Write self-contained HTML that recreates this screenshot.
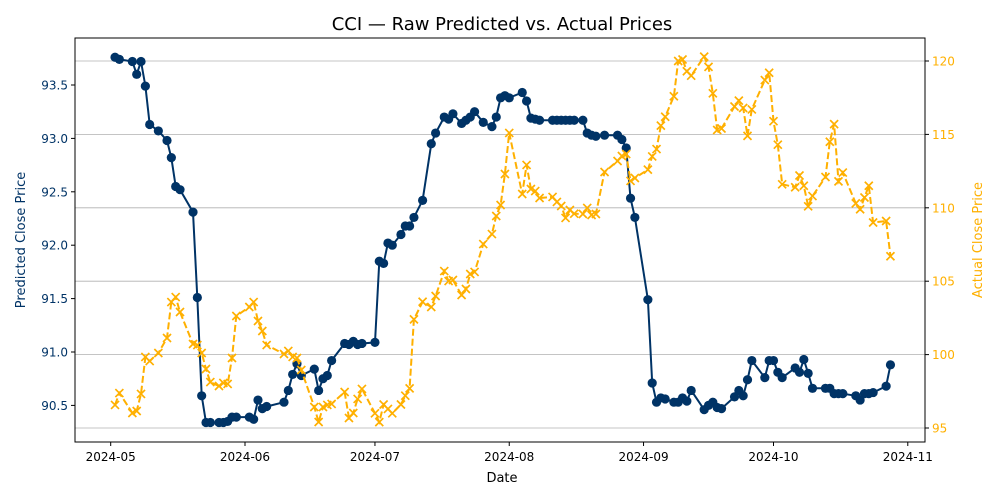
<!DOCTYPE html>
<html><head><meta charset="utf-8"><style>
body{margin:0;background:#fff;font-family:"DejaVu Sans","Liberation Sans",sans-serif}
svg text{font-family:"DejaVu Sans","Liberation Sans",sans-serif}
</style></head><body>
<svg id="chart" width="1000" height="500" xmlns="http://www.w3.org/2000/svg">
<rect width="1000" height="500" fill="#fff"/>
<text x="502" y="30" font-size="18" text-anchor="middle">CCI — Raw Predicted vs. Actual Prices</text>
<g id="grid"></g><g id="series"></g><g id="axes"></g>
</svg>
<script>
const days=[1,2,5,6,7,8,9,11,13,14,15,16,19,20,21,22,23,25,26,27,28,29,32,33,34,35,36,40,41,42,43,44,47,48,49,50,51,54,55,56,57,58,61,62,63,64,65,67,68,69,70,72,74,75,77,78,79,81,82,83,84,86,88,89,90,91,92,95,96,97,98,99,102,103,104,105,106,107,109,110,111,112,114,117,118,119,120,121,124,125,126,127,128,130,131,132,133,134,137,138,139,140,141,144,145,146,147,148,151,152,153,154,155,158,159,160,161,162,165,166,167,168,169,172,173,174,175,176,179,180];
const predicted=[93.76,93.74,93.72,93.60,93.72,93.49,93.13,93.07,92.98,92.82,92.55,92.52,92.31,91.51,90.59,90.34,90.34,90.34,90.34,90.35,90.39,90.39,90.39,90.37,90.55,90.47,90.49,90.53,90.64,90.79,90.89,90.78,90.84,90.64,90.75,90.78,90.92,91.08,91.07,91.10,91.07,91.08,91.09,91.85,91.83,92.02,92.00,92.10,92.18,92.18,92.26,92.42,92.95,93.05,93.20,93.18,93.23,93.14,93.17,93.20,93.25,93.15,93.11,93.20,93.38,93.40,93.38,93.43,93.35,93.19,93.18,93.17,93.17,93.17,93.17,93.17,93.17,93.17,93.17,93.05,93.03,93.02,93.03,93.03,92.99,92.91,92.44,92.26,91.49,90.71,90.53,90.57,90.56,90.53,90.53,90.57,90.54,90.64,90.46,90.50,90.53,90.48,90.47,90.58,90.64,90.59,90.74,90.92,90.76,90.92,90.92,90.81,90.76,90.85,90.81,90.93,90.80,90.66,90.66,90.66,90.61,90.61,90.61,90.59,90.55,90.61,90.61,90.62,90.68,90.88];
const actual=[96.57,97.38,96.02,96.16,97.32,99.84,99.56,100.11,101.13,103.58,103.92,102.90,100.72,100.65,100.11,99.02,98.13,97.86,98.07,98.0,99.77,102.63,103.24,103.58,102.29,101.61,100.65,100.04,100.25,99.84,99.77,98.95,96.43,95.41,96.43,96.57,96.64,97.45,95.68,96.02,96.98,97.66,96.0,95.4,96.6,96.3,96.0,96.6,97.2,97.7,102.4,103.6,103.24,103.99,105.69,105.01,105.08,104.06,104.47,105.49,105.63,107.53,108.21,109.44,110.19,112.30,115.10,110.94,112.92,111.28,111.14,110.67,110.74,110.40,110.12,109.31,109.85,109.6,109.58,109.99,109.51,109.58,112.44,113.19,113.53,113.66,111.83,112.03,112.6,113.5,114.0,115.6,116.2,117.6,120.0,120.1,119.3,119.0,120.3,119.6,117.8,115.3,115.4,116.9,117.3,116.8,114.9,116.7,118.7,119.2,115.9,114.3,111.6,111.4,112.2,111.5,110.1,110.8,112.1,114.5,115.7,111.8,112.4,110.3,109.9,110.7,111.5,109.0,109.1,106.7];
const leftTicks=[90.5,91.0,91.5,92.0,92.5,93.0,93.5];
const rightTicks=[95,100,105,110,115,120];
const xTickLabels=["2024-05","2024-06","2024-07","2024-08","2024-09","2024-10","2024-11"];
const xTickDays=[0,31,61,92,123,153,184];

const L=75,R=925,T=38,B=442;
const xs=d=>110.7+d*4.332;
const yl=v=>85+(93.5-v)*106.8;
const yr=v=>61+(120-v)*14.68;
const NS="http://www.w3.org/2000/svg";
function mk(tag,attrs,parent){const e=document.createElementNS(NS,tag);for(const k in attrs)e.setAttribute(k,attrs[k]);parent.appendChild(e);return e;}
const grid=document.getElementById('grid'),ser=document.getElementById('series'),ax=document.getElementById('axes');

rightTicks.forEach(v=>{const g=mk('line',{x1:L,x2:R,y1:yr(v),y2:yr(v),stroke:'#b0b0b0','stroke-width':0.8},grid);

});

let pp=days.map((d,i)=>xs(d).toFixed(1)+','+yl(predicted[i]).toFixed(1)).join(' ');
const pl=mk('polyline',{points:pp,fill:'none',stroke:'#003366','stroke-width':2},ser);


days.forEach((d,i)=>{const c=mk('circle',{cx:xs(d),cy:yl(predicted[i]),r:4.6,fill:'#003366'},ser);

});

let ap=days.map((d,i)=>xs(d).toFixed(1)+','+yr(actual[i]).toFixed(1)).join(' ');
const al=mk('polyline',{points:ap,fill:'none',stroke:'#ffb000','stroke-width':2,'stroke-dasharray':'7,3'},ser);


days.forEach((d,i)=>{const x=xs(d),y=yr(actual[i]);
const m=mk('path',{d:`M${x-4},${y-4}L${x+4},${y+4}M${x-4},${y+4}L${x+4},${y-4}`,stroke:'#ffb000','stroke-width':1.7},ser);

});

const fr=mk('rect',{x:L,y:T,width:R-L,height:B-T,fill:'none',stroke:'#000','stroke-width':1},ax);



leftTicks.forEach(v=>{const y=yl(v);mk('line',{x1:L-4,x2:L,y1:y,y2:y,stroke:'#000'},ax);
const t=mk('text',{x:L-7,y:y+4.5,'font-size':12,'text-anchor':'end',fill:'#003366'},ax);t.textContent=v.toFixed(1);

});
rightTicks.forEach(v=>{const y=yr(v);mk('line',{x1:R,x2:R+4,y1:y,y2:y,stroke:'#000'},ax);
const t=mk('text',{x:R+7,y:y+4.5,'font-size':12,'text-anchor':'start',fill:'#ffb000'},ax);t.textContent=v;

});
xTickDays.forEach((d,i)=>{const x=xs(d);mk('line',{x1:x,x2:x,y1:B,y2:B+4,stroke:'#000'},ax);
const t=mk('text',{x:x,y:B+19,'font-size':12,'text-anchor':'middle',fill:'#000'},ax);t.textContent=xTickLabels[i];

});

let t=mk('text',{x:502,y:482,'font-size':13,'text-anchor':'middle'},ax);t.textContent='Date';


t=mk('text',{x:25,y:240,'font-size':13,'text-anchor':'middle',fill:'#003366',transform:'rotate(-90 25 240)'},ax);t.textContent='Predicted Close Price';


t=mk('text',{x:982,y:240,'font-size':13,'text-anchor':'middle',fill:'#ffb000',transform:'rotate(-90 982 240)'},ax);t.textContent='Actual Close Price';


</script>
</body></html>
